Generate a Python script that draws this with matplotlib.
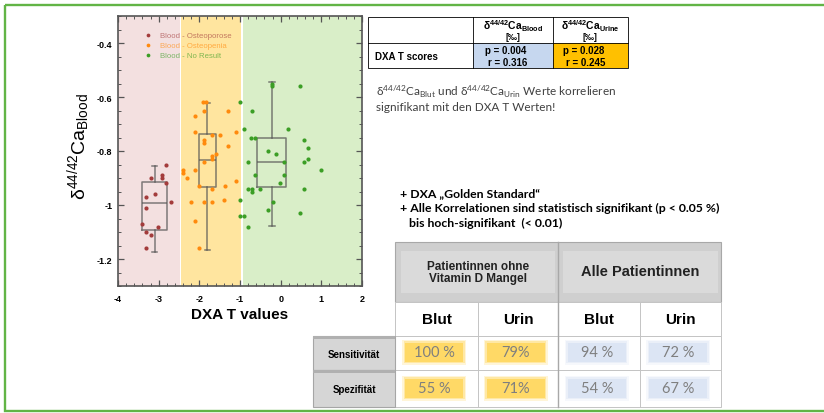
import matplotlib
matplotlib.use("Agg")
import matplotlib.pyplot as plt
from matplotlib.patches import Rectangle
from matplotlib.ticker import MultipleLocator, FuncFormatter

# --- scatter data: DXA T value vs delta44/42Ca (blood) ---
osteoporose_t = [-2.81, -2.91, -2.91, -3.20, -2.81, -2.70, -3.09, -3.30, -3.30, -3.40,
                 -3.01, -3.30, -3.20, -3.30]
osteoporose_ca = [-0.85, -0.89, -0.90, -0.90, -0.92, -0.99, -0.96, -0.97, -1.01, -1.07,
                  -1.08, -1.10, -1.11, -1.16]

osteopenia_t = [-1.91, -1.83, -1.89, -1.30, -2.11, -2.11, -1.11, -1.50, -1.70, -1.89,
                -1.89, -1.30, -1.59, -1.70, -1.70, -1.89, -2.40, -2.40, -2.11, -2.30,
                -1.11, -2.01, -1.36, -1.70, -2.20, -1.89, -1.70, -1.40, -2.11, -2.01]
osteopenia_ca = [-0.62, -0.62, -0.65, -0.65, -0.67, -0.73, -0.73, -0.74, -0.74, -0.76,
                 -0.77, -0.78, -0.81, -0.82, -0.83, -0.84, -0.87, -0.88, -0.87, -0.90,
                 -0.91, -0.93, -0.93, -0.94, -0.99, -0.99, -0.99, -0.98, -1.06, -1.16]

noresult_t = [-0.21, -0.21, -1.00, -0.91, -0.70, -0.73, -0.62, -0.80, -0.62, -0.80,
              -0.70, -0.70, -0.52, -1.00, -1.00, -0.91, -0.80, -0.31, -0.12, -0.31,
              -0.20, -0.02, 0.09, 0.09, 0.18, 0.48, 0.58, 0.58, 0.68, 0.68,
              0.58, 0.48, 0.98]
noresult_ca = [-0.55, -0.56, -0.62, -0.72, -0.65, -0.75, -0.75, -0.84, -0.89, -0.94,
               -0.94, -0.95, -0.94, -0.98, -1.04, -1.04, -1.08, -0.80, -0.81, -1.02,
               -0.99, -0.92, -0.84, -0.89, -0.72, -0.56, -0.76, -0.84, -0.79, -0.83,
               -0.94, -1.03, -0.87]

series_labels = ["Blood - Osteoporose", "Blood - Osteopenia", "Blood - No Result"]
series_colors = ["#a33c3c", "#ff8a0d", "#3b9e25"]

# box plot summary
box_pos = [-3.10, -1.80, -0.22]
box_width = [0.60, 0.44, 0.71]
box_med = [-0.992, -0.832, -0.840]
box_q1 = [-1.091, -0.935, -0.935]
box_q3 = [-0.915, -0.737, -0.750]
box_lo = [-1.173, -1.166, -1.079]
box_hi = [-0.854, -0.623, -0.545]

# coloured DXA zones
zone_start = [-4.0, -2.45, -0.92]
zone_end = [-2.48, -0.965, 2.0]
zone_colors = ["#f3e0e0", "#ffe59f", "#d9eec8"]

# correlation table
corr_cols = ["δ$^{44/42}$Ca$_{Blood}$", "δ$^{44/42}$Ca$_{Urine}$"]
corr_row = "DXA T scores"
corr_p = ["0.004", "0.028"]
corr_r = ["0.316", "0.245"]

# sensitivity / specificity table
group_labels = ["Patientinnen ohne\nVitamin D Mangel", "Alle Patientinnen"]
sample_labels = ["Blut", "Urin", "Blut", "Urin"]
row_labels = ["Sensitivität", "Spezifität"]
sensitivity = ["100 %", "79%", "94 %", "72 %"]
specificity = ["55 %", "71%", "54 %", "67 %"]

ARIAL = ["Liberation Sans", "DejaVu Sans"]
CALIBRI = ["Lato", "DejaVu Sans"]

plt.rcParams["axes.unicode_minus"] = False
plt.rcParams["mathtext.default"] = "regular"

W, H = 824, 414
fig = plt.figure(figsize=(W / 100, H / 100), dpi=100)

# overlay in pixel units for the slide parts
bg = fig.add_axes([0, 0, 1, 1])
bg.set_xlim(0, W)
bg.set_ylim(H, 0)
bg.axis("off")


def box(x0, y0, x1, y1, fc="none", ec="none", lw=0.7, alpha=1.0):
    bg.add_patch(Rectangle((x0, y0), x1 - x0, y1 - y0, facecolor=fc, edgecolor=ec,
                           linewidth=lw, alpha=alpha))


def txt(x, y, s, size, family=ARIAL, weight="normal", color="black", ha="center", **kw):
    bg.text(x, y, s, fontsize=size, family=family, weight=weight, color=color,
            ha=ha, va="center", **kw)


# slide frame
box(5, 6, 840, 412, ec="#62b446", lw=1.7)

# --- scatter + box plot ---
ax = fig.add_axes([118 / W, 1 - 287 / H, 244 / W, 270 / H])
for x0, x1, c in zip(zone_start, zone_end, zone_colors):
    ax.axvspan(x0, x1, color=c, lw=0, zorder=0)

stats = []
for i in range(3):
    stats.append(dict(med=box_med[i], q1=box_q1[i], q3=box_q3[i],
                      whislo=box_lo[i], whishi=box_hi[i], fliers=[]))
line = dict(color="#555555", linewidth=1.1, alpha=0.75)
ax.bxp(stats, positions=box_pos, widths=box_width, capwidths=0.14, showfliers=False,
       boxprops=line, whiskerprops=line, capprops=line, medianprops=line,
       manage_ticks=False, zorder=2)

for xs, ys, lab, c in zip([osteoporose_t, osteopenia_t, noresult_t],
                          [osteoporose_ca, osteopenia_ca, noresult_ca],
                          series_labels, series_colors):
    ax.scatter(xs, ys, s=9, color=c, label=lab, zorder=3, linewidths=0)

ax.set_xlim(-4, 2)
ax.set_ylim(-1.3, -0.3)
ax.xaxis.set_major_locator(MultipleLocator(1))
ax.xaxis.set_minor_locator(MultipleLocator(0.2))
ax.yaxis.set_major_locator(MultipleLocator(0.2))
ax.yaxis.set_minor_locator(MultipleLocator(0.05))
fmt = FuncFormatter(lambda v, p: f"{v:g}")
ax.xaxis.set_major_formatter(fmt)
ax.yaxis.set_major_formatter(fmt)
ax.tick_params(which="both", direction="in", top=True, right=True, color="#555555",
               labelsize=6.5)
ax.tick_params(axis="x", pad=6)
ax.tick_params(axis="y", pad=4)
ax.tick_params(which="major", length=4, width=0.9)
ax.tick_params(which="minor", length=2, width=0.7)
for lab in ax.get_xticklabels() + ax.get_yticklabels():
    lab.set_family(ARIAL)
    lab.set_weight("bold")
for sp in ax.spines.values():
    sp.set_color("#555555")
    sp.set_linewidth(1.2)

ax.set_xlabel("DXA T values", fontsize=11, family=ARIAL, weight="bold", labelpad=3)
ax.set_ylabel("δ$^{44/42}$Ca$_{Blood}$", fontsize=14, family=ARIAL)
ax.yaxis.set_label_coords(-0.105, 0.52)

leg = ax.legend(loc="upper left", bbox_to_anchor=(0.08, 0.955), frameon=False,
                handletextpad=0.5, labelspacing=0.35, borderaxespad=0, markerscale=0.9,
                prop={"family": ARIAL, "size": 5.6})
for t, c in zip(leg.get_texts(), series_colors):
    t.set_color(c)
    t.set_alpha(0.65)

# --- correlation table ---
box(368, 18, 628, 69, fc="white", ec="black", lw=0.6)
box(473, 44, 553, 69, fc="#c6d7ef")
box(553, 44, 628, 69, fc="#ffc000")
for xv in [473, 553]:
    bg.plot([xv, xv], [18, 69], color="black", lw=0.6)
bg.plot([368, 628], [44, 44], color="black", lw=0.6)
for cx, lab in zip([513, 590], corr_cols):
    txt(cx, 26, lab, 7.5, weight="bold")
    txt(cx, 38, "[‰]", 6.5, weight="bold")
txt(375, 57, corr_row, 7, weight="bold", ha="left")
for px, pv, rv in zip([485, 563], corr_p, corr_r):
    txt(px, 51, f"p = {pv}", 7, weight="bold", ha="left")
    txt(px + 3, 63, f"r = {rv}", 7, weight="bold", ha="left")

txt(376, 92, "δ$^{44/42}$Ca$_{Blut}$ und δ$^{44/42}$Ca$_{Urin}$ Werte korrelieren",
    8.5, family=CALIBRI, color="#404040", ha="left")
txt(376, 108, "signifikant mit den DXA T Werten!", 8.5, family=CALIBRI,
    color="#404040", ha="left")

txt(400, 194, "+ DXA „Golden Standard“", 8.8, family=CALIBRI, weight="bold", ha="left")
txt(400, 208, "+ Alle Korrelationen sind statistisch signifikant (p < 0.05 %)", 8.8,
    family=CALIBRI, weight="bold", ha="left")
txt(409, 223, "bis hoch-signifikant  (< 0.01)", 8.8, family=CALIBRI, weight="bold", ha="left")

# --- sensitivity / specificity table ---
col_edges = [395, 478, 558, 640, 721]
box(395, 243, 721, 303, fc="#cfcfcf", ec="#a8a8a8", lw=0.8)
box(401, 252, 555, 294, fc="#dadada")
box(563, 252, 718, 294, fc="#dadada")
txt(478, 273, group_labels[0], 8.5, weight="bold", color="#222222", linespacing=1.1)
txt(640, 272, group_labels[1], 10.5, weight="bold", color="#222222")

for y0, y1 in [(303, 337), (337, 371), (371, 408)]:
    box(395, y0, 721, y1, fc="white", ec="#c4c4c4", lw=0.7)
for xv in col_edges[1:-1]:
    bg.plot([xv, xv], [303, 408], color="#c4c4c4", lw=0.7)
bg.plot([558, 558], [243, 408], color="#a8a8a8", lw=1.0)

for i, lab in enumerate(sample_labels):
    cx = (col_edges[i] + col_edges[i + 1]) / 2
    txt(cx, 320, lab, 11, weight="bold")

for (y0, y1), lab in zip([(337, 371), (371, 408)], row_labels):
    box(313, y0, 395, y1, fc="#d6d6d6", ec="#a6a6a6", lw=0.8)
    box(313, y0, 395, y0 + 3, fc="#b0b0b0")
    txt(354, (y0 + y1) / 2 + 1, lab, 7, weight="bold")

for yc, vals in zip([353, 389], [sensitivity, specificity]):
    for i, v in enumerate(vals):
        cx = (col_edges[i] + col_edges[i + 1]) / 2 - 2
        c = "#ffd966" if i < 2 else "#dce5f4"
        for pad, a in [(3, 0.25), (1.5, 0.45), (0, 1.0)]:
            box(cx - 29 - pad, yc - 9.5 - pad, cx + 29 + pad, yc + 9.5 + pad, fc=c, alpha=a)
        txt(cx, yc, v, 10.5, family=CALIBRI, color="#7f7f7f")

fig.savefig("out.png", dpi=100)
